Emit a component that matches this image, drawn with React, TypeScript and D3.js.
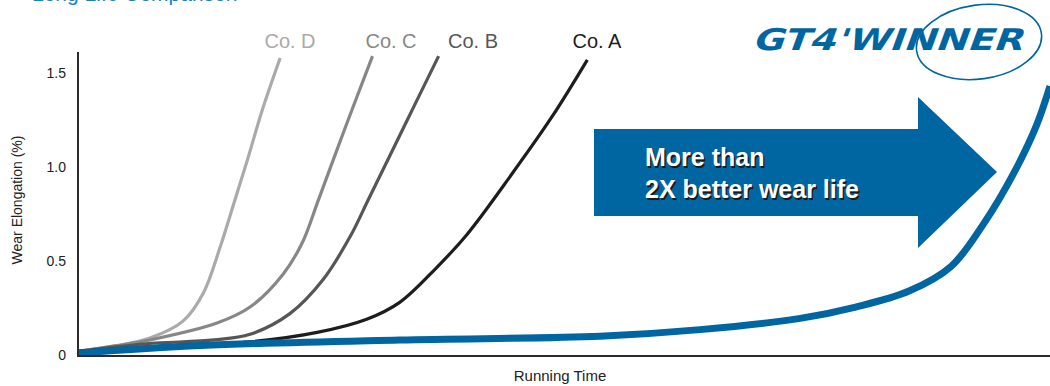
import * as d3 from 'd3';

// running time is in % of the plotted span, elongation in %
const coD: [number, number][] = [[0, 0.02], [4, 0.05], [7.4, 0.09], [10.8, 0.18], [12.9, 0.33], [14.6, 0.57], [16, 0.8], [17.5, 1.05], [19, 1.31], [20.8, 1.58]];
const coC: [number, number][] = [[0, 0.02], [4, 0.05], [7.4, 0.08], [14.3, 0.17], [17.7, 0.255], [21.1, 0.43], [23.1, 0.6], [24.7, 0.82], [27.5, 1.21], [30.3, 1.59]];
const coB: [number, number][] = [[0, 0.02], [7, 0.06], [14, 0.08], [17.7, 0.11], [21.8, 0.22], [25.2, 0.4], [28, 0.63], [29.9, 0.83], [33.5, 1.21], [37.1, 1.59]];
const coA: [number, number][] = [[0, 0.02], [10, 0.05], [17.7, 0.07], [24.6, 0.12], [29.7, 0.19], [33.1, 0.28], [36.8, 0.46], [40, 0.64], [44.6, 0.96], [48.8, 1.27], [52.4, 1.57]];
const gt4: [number, number][] = [[0, 0.01], [12.6, 0.05], [33.1, 0.08], [53.7, 0.1], [64, 0.135], [74.3, 0.195], [80, 0.255], [85.5, 0.34], [89.8, 0.47], [93.2, 0.7], [96.3, 0.97], [98.6, 1.22], [100, 1.43]];

const competitors = [
  { name: 'Co. D', data: coD, color: '#aaaaaa' },
  { name: 'Co. C', data: coC, color: '#878787' },
  { name: 'Co. B', data: coB, color: '#565656' },
  { name: 'Co. A', data: coA, color: '#1f1c1d' },
];
const yTicks = [0, 0.5, 1.0, 1.5];
const yTickLabels = ['0', '0.5', '1.0', '1.5'];

const W = 1050;
const H = 386;
const BLUE = '#0066a1';

export default function App() {
  const x = d3.scaleLinear().domain([0, 100]).range([78, 1050]);
  const y = d3.scaleLinear().domain([0, 1.5]).range([355, 73]);
  const line = d3.line<[number, number]>()
    .x(d => x(d[0]))
    .y(d => y(d[1]))
    .curve(d3.curveCatmullRom.alpha(0.5));

  // label centres sit just right of each curve's end
  const labelX = [290, 391, 473, 597];

  return (
    <div style={{ position: 'absolute', left: 0, top: 0 }}>
      <svg width={W} height={H} style={{ display: 'block', fontFamily: '"Liberation Sans", Arial, sans-serif' }}>
        <rect width={W} height={H} fill="#fff" />

        {/* title, cut off at the top edge in the source */}
        <text x={32} y={1} fontSize={21} fill="#1f7ec2">Long Life Comparison</text>

        {/* logo */}
        <ellipse cx={979} cy={42} rx={63} ry={37} fill="none" stroke={BLUE} strokeWidth={1.6} transform="rotate(-8 979 42)" />
        <text x={752} y={50} fontSize={30} fontWeight="bold" fill={BLUE}
          textLength={270} lengthAdjust="spacingAndGlyphs"
          transform="translate(18,0) skewX(-20)"
          style={{ fontFamily: '"DejaVu Sans", sans-serif' }}>GT4'WINNER</text>

        {/* arrow */}
        <path d="M594,129 L918,129 L918,97 L997,172 L918,248 L918,216 L594,216 Z" fill={BLUE} />
        {['More than', '2X better wear life'].map((t, i) => (
          <g key={t} fontSize={25} fontWeight="bold">
            <text x={646.5} y={167.5 + i * 32} fill="#1a1a1a">{t}</text>
            <text x={645} y={166 + i * 32} fill="#fff">{t}</text>
          </g>
        ))}

        {/* competitor curves */}
        {competitors.map(c => (
          <path key={c.name} d={line(c.data) || ''} fill="none" stroke={c.color} strokeWidth={3.2} />
        ))}
        {competitors.map((c, i) => (
          <text key={c.name} x={labelX[i]} y={48} fontSize={20} textAnchor="middle" fill={c.color}>{c.name}</text>
        ))}

        {/* GT4 curve */}
        <path d={line(gt4) || ''} fill="none" stroke={BLUE} strokeWidth={7} />

        {/* axes */}
        <line x1={78} x2={78} y1={52} y2={356} stroke="#2b2b2b" strokeWidth={2} />
        <line x1={77} x2={1050} y1={356} y2={356} stroke="#2b2b2b" strokeWidth={2} />
        {yTicks.map((v, i) => (
          <text key={v} x={66} y={y(v) + 5} fontSize={14} textAnchor="end" fill="#222">{yTickLabels[i]}</text>
        ))}
        <text transform="translate(22,200) rotate(-90)" fontSize={14} textAnchor="middle" fill="#222">Wear Elongation (%)</text>
        <text x={560} y={381} fontSize={15} textAnchor="middle" fill="#222">Running Time</text>
      </svg>
    </div>
  );
}
